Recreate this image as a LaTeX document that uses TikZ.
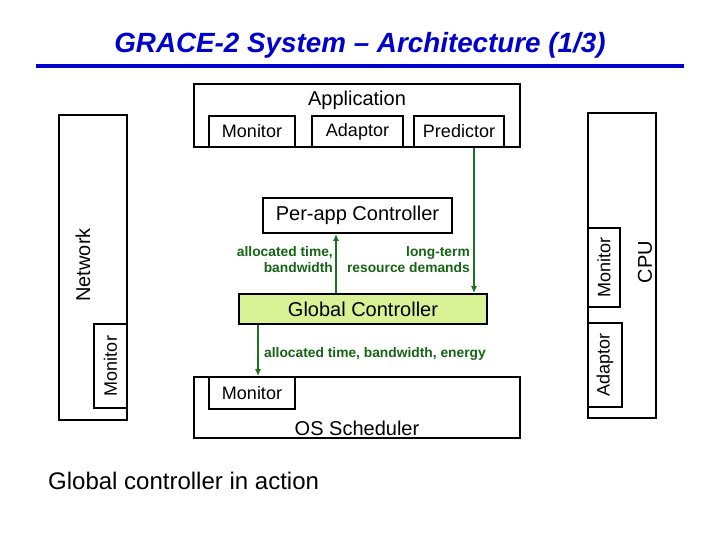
\documentclass[tikz,border=0pt]{standalone}
\usepackage{fontspec}
\setmainfont{Liberation Sans}
\usepackage{tikz}
\usetikzlibrary{positioning,arrows.meta,calc}
\definecolor{titlec}{RGB}{0,0,204}
\definecolor{flowc}{RGB}{30,115,30}
\definecolor{lblc}{RGB}{20,100,20}
\definecolor{gcfill}{RGB}{217,242,150}
\tikzset{
  unit/.style    = {draw=black, line width=1.6pt, inner sep=0pt},
  part/.style    = {draw=black, line width=1.6pt, inner sep=0pt, font=\fontsize{18}{21}\selectfont},
  ctrl/.style    = {draw=black, line width=1.6pt, inner sep=0pt, font=\fontsize{20}{23}\selectfont},
  big/.style     = {font=\fontsize{20}{23}\selectfont, inner sep=0pt},
  flow/.style    = {-{Latex[length=7pt,width=6pt]}, line width=1.8pt, draw=flowc},
  lbl/.style     = {font=\fontsize{13.8}{16}\selectfont\bfseries, text=lblc, align=right, inner sep=0pt},
}
\begin{document}
\begin{tikzpicture}[x=1pt, y=-1pt]
\useasboundingbox (0,0) rectangle (720,540);

% ---------- title ----------
\node[font=\fontsize{27.8}{32}\selectfont\bfseries\itshape, text=titlec] (title) at (360,45) {GRACE-2 System -- Architecture (1/3)};
\coordinate (rulel) at (36,66);
\coordinate (ruler) at (684,66);
\draw[titlec, line width=4pt] (rulel) -- (ruler);

% ---------- application ----------
\node[unit, minimum width=326pt, minimum height=63pt] (app) at (357,115.5) {};
\node[big] (apptxt) at (357,100) {Application};
\node[part, minimum width=86pt, minimum height=31pt] (amon) at (252,131.5) {Monitor};
\node[part, minimum width=91pt, minimum height=31pt] (aadp) at (357.5,131.5) {Adaptor};
\node[part, minimum width=90pt, minimum height=31pt] (apred) at (459,131.5) {Predictor};

% ---------- controllers ----------
\node[ctrl, minimum width=189pt, minimum height=35pt] (pac) at (357.5,215.5) {Per-app Controller};
\node[ctrl, fill=gcfill, minimum width=248pt, minimum height=30pt] (gc) at (363,309) {Global Controller};

% ---------- os scheduler ----------
\node[unit, minimum width=326pt, minimum height=61pt] (os) at (357,407.5) {};
\node[big] (ostxt) at (357,428) {OS Scheduler};
\node[part, minimum width=86pt, minimum height=32pt] (omon) at (252,393) {Monitor};

% ---------- network ----------
\node[unit, minimum width=68pt, minimum height=305pt] (net) at (93,267.5) {};
\node[big, rotate=90] (nettxt) at (83,265) {Network};
\node[part, rotate=90, minimum width=84pt, minimum height=33pt] (nmon) at (110.5,366) {Monitor};

% ---------- cpu ----------
\node[unit, minimum width=68pt, minimum height=305pt] (cpu) at (622,265.5) {};
\node[big, rotate=90] (cputxt) at (645,262) {CPU};
\node[part, rotate=90, minimum width=79pt, minimum height=32pt] (cmon) at (604,267.5) {Monitor};
\node[part, rotate=90, minimum width=84pt, minimum height=34pt] (cadp) at (605,365) {Adaptor};

% ---------- flows ----------
\coordinate (dem) at (474,0);
\coordinate (alloc) at (336,0);
\coordinate (down) at (258,0);
\draw[flow] (apred.south -| dem) -- (gc.north -| dem);
\draw[flow] (gc.north -| alloc) -- (pac.south -| alloc);
\draw[flow] (gc.south -| down) -- (os.north -| down);
\node[lbl, anchor=east] (l1) at (333,260) {allocated time,\\bandwidth};
\node[lbl, anchor=east] (l2) at (470,260) {long-term\\resource demands};
\node[lbl, anchor=west] (l3) at (264,354) {allocated time, bandwidth, energy};

% ---------- caption ----------
\node[font=\fontsize{24}{28}\selectfont, anchor=west, inner sep=0pt] (cap) at (48,481) {Global controller in action};

\end{tikzpicture}
\end{document}
